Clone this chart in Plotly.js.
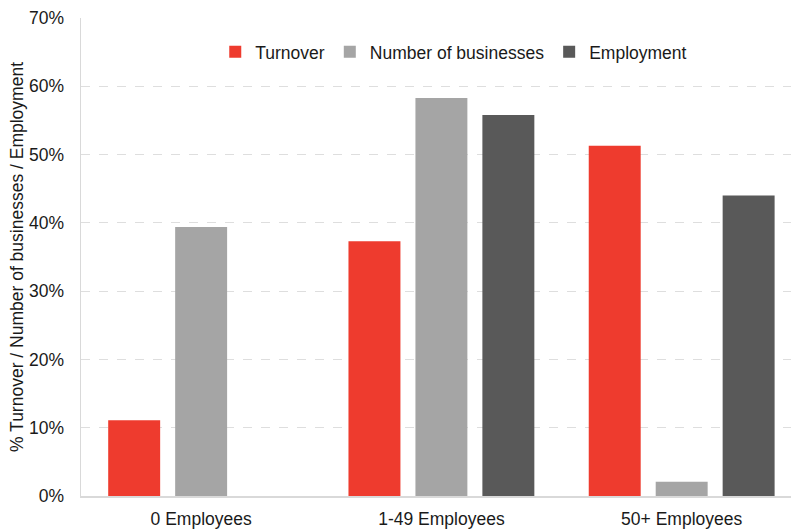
<!DOCTYPE html>
<html><head><meta charset="utf-8">
<script src="https://cdn.plot.ly/plotly-3.0.1.min.js"></script>
<style>html,body{margin:0;padding:0;background:#fff}#chart{width:791px;height:529px}</style>
</head><body><div id="chart"></div>
<script>
const categories = ["0 Employees", "1-49 Employees", "50+ Employees"];
const turnover = [11.1, 37.3, 51.3];
const businesses = [39.4, 58.3, 2.1];
const employment = [null, 55.8, 44.0];
const yTicks = [0, 10, 20, 30, 40, 50, 60, 70];
const yTickLabels = yTicks.map(v => v + "%");

const font = {family: "Liberation Sans, Arial, sans-serif", size: 17.5, color: "#1a1a1a"};
const data = [
  {type: "bar", name: "Turnover", x: categories, y: turnover, marker: {color: "#EE3B2E"}},
  {type: "bar", name: "Number of businesses", x: categories, y: businesses, marker: {color: "#A5A5A5"}},
  {type: "bar", name: "Employment", x: categories, y: employment, marker: {color: "#595959"}}
];
const layout = {
  width: 791, height: 529,
  margin: {l: 81, r: 0, t: 18, b: 33},
  paper_bgcolor: "#fff", plot_bgcolor: "#fff",
  font: font,
  barmode: "group",
  bargap: 0.164,
  bargroupgap: 0.224,
  showlegend: true,
  legend: {orientation: "h", x: 0.525, xanchor: "center", y: 0.929, yanchor: "middle",
           font: font, itemwidth: 30, tracegroupgap: 0},
  xaxis: {range: [-0.5, 2.455], showline: true, linecolor: "#D9D9D9", linewidth: 1.5,
          ticks: "", tickfont: font, showgrid: false, zeroline: false, fixedrange: true,
          ticklabelstandoff: 6},
  yaxis: {range: [0, 70], tickvals: yTicks, ticktext: yTickLabels, tickfont: font,
          showline: true, linecolor: "#D9D9D9", linewidth: 1.5,
          showgrid: true, gridcolor: "#DEDEDE", griddash: "dash", gridwidth: 1,
          zeroline: false, ticks: "", ticklen: 0, automargin: false, ticklabelstandoff: 12,
          title: {text: "% Turnover / Number of businesses / Employment",
                  font: {family: font.family, size: 17.5, color: "#1a1a1a"}, standoff: 1}}
};
Plotly.newPlot("chart", data, layout, {displayModeBar: false, staticPlot: true});
</script></body></html>
